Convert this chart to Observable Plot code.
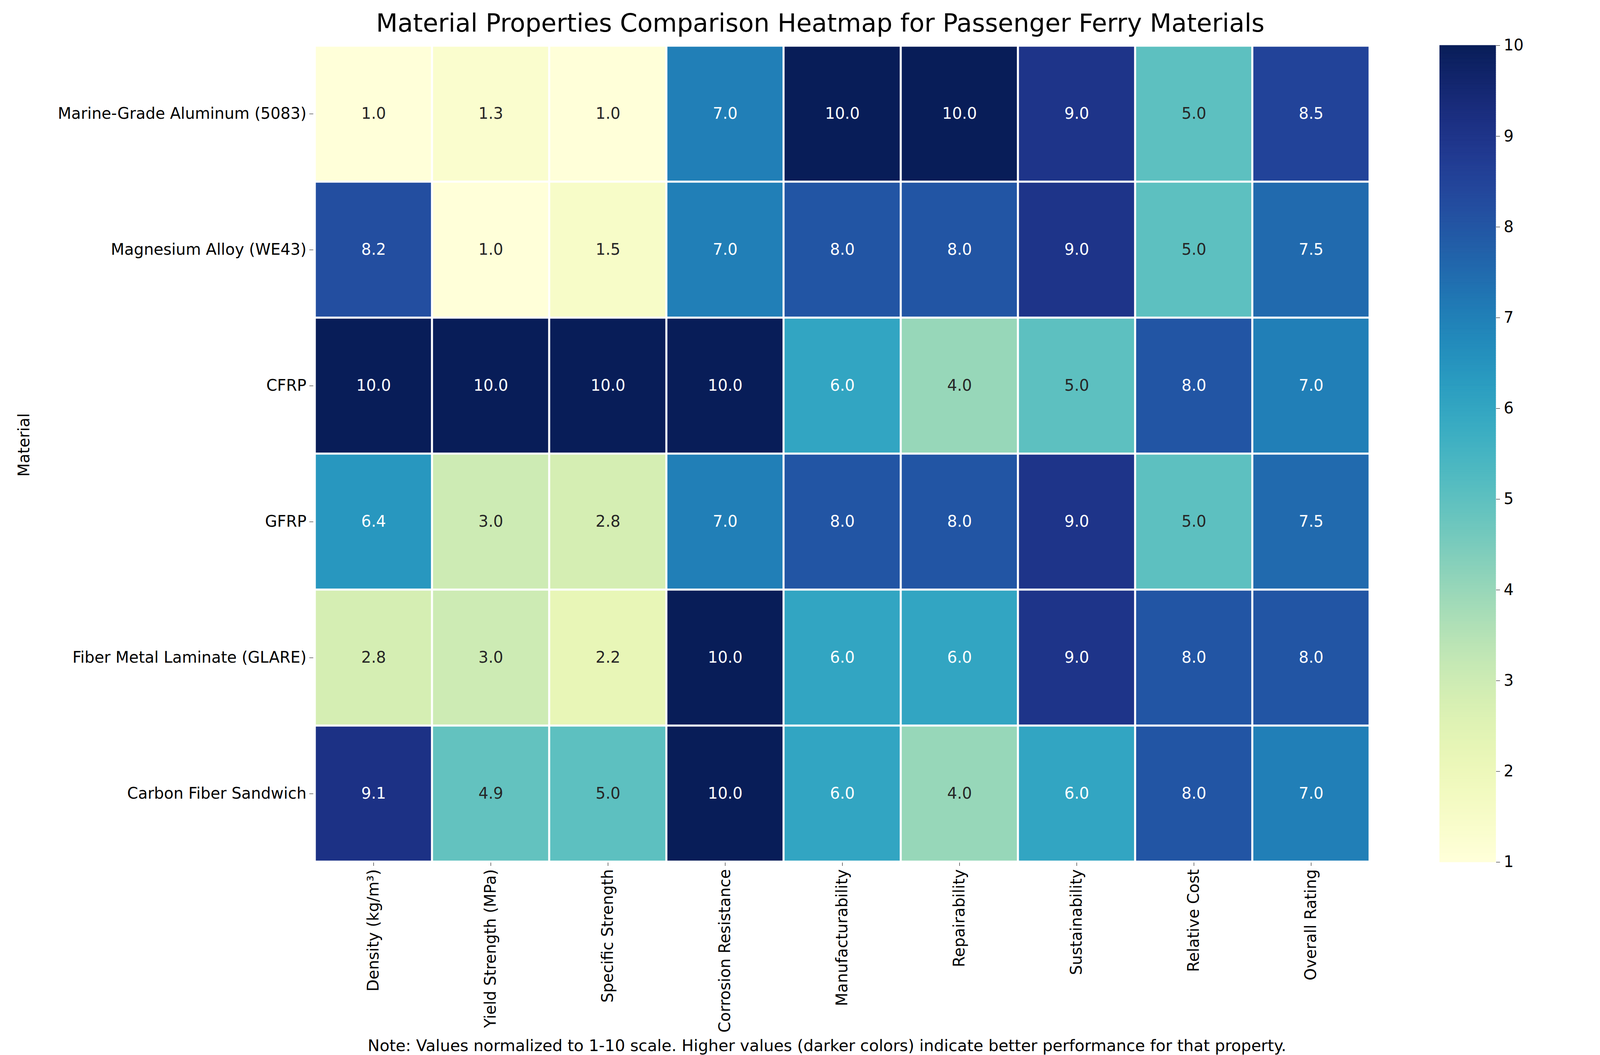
<!DOCTYPE html>
<html>
<head>
<meta charset="utf-8">
<script src="https://cdn.jsdelivr.net/npm/d3@7"></script>
<script src="https://cdn.jsdelivr.net/npm/@observablehq/plot@0.6"></script>
<style>
  body { margin:0; background:#fff; font-family:"DejaVu Sans", sans-serif; }
  #wrap { position:relative; width:4200px; height:2700px; overflow:hidden; }
  #title { position:absolute; top:22px; left:0; width:4200px; text-align:center; font-size:64px; z-index:2; }
  #note { position:absolute; top:2652px; left:0; width:4234px; text-align:center; font-size:41px; z-index:2; }
  #chart { position:absolute; top:116px; left:0; }
  #bar { position:absolute; top:86px; left:3685px; }
  #ylab { position:absolute; left:38px; top:1220px; transform:rotate(-90deg); transform-origin:left top; font-size:40px; z-index:2; }
</style>
</head>
<body>
<div id="wrap">
  <div id="chart"></div>
  <div id="bar"></div>
  <div id="title">Material Properties Comparison Heatmap for Passenger Ferry Materials</div>
  <div id="ylab">Material</div>
  <div id="note">Note: Values normalized to 1-10 scale. Higher values (darker colors) indicate better performance for that property.</div>
</div>
<script>
const materials = ["Marine-Grade Aluminum (5083)", "Magnesium Alloy (WE43)", "CFRP", "GFRP", "Fiber Metal Laminate (GLARE)", "Carbon Fiber Sandwich"];
const properties = ["Density (kg/m³)", "Yield Strength (MPa)", "Specific Strength", "Corrosion Resistance", "Manufacturability", "Repairability", "Sustainability", "Relative Cost", "Overall Rating"];
const values = [
  [1.0, 1.3, 1.0, 7.0, 10.0, 10.0, 9.0, 5.0, 8.5],
  [8.2, 1.0, 1.5, 7.0, 8.0, 8.0, 9.0, 5.0, 7.5],
  [10.0, 10.0, 10.0, 10.0, 6.0, 4.0, 5.0, 8.0, 7.0],
  [6.4, 3.0, 2.8, 7.0, 8.0, 8.0, 9.0, 5.0, 7.5],
  [2.8, 3.0, 2.2, 10.0, 6.0, 6.0, 9.0, 8.0, 8.0],
  [9.1, 4.9, 5.0, 10.0, 6.0, 4.0, 6.0, 8.0, 7.0]
];
const colorTicks = [1, 2, 3, 4, 5, 6, 7, 8, 9, 10];

const cells = materials.flatMap((m, i) => properties.map((p, j) => ({material: m, property: p, value: values[i][j]})));

const chart = Plot.plot({
  width: 3600,
  height: 2650,
  marginLeft: 802,
  marginRight: 90,
  marginTop: 0,
  marginBottom: 560,
  style: {fontFamily: "DejaVu Sans", fontSize: "40px", color: "#000", overflow: "visible"},
  x: {domain: properties, padding: 0, label: null, tickRotate: -90, tickSize: 10, tickPadding: 8},
  y: {domain: materials, padding: 0, label: null, tickSize: 10, tickPadding: 8},
  color: {type: "linear", scheme: "YlGnBu", domain: [1, 10]},
  marks: [
    Plot.cell(cells, {x: "property", y: "material", fill: "value", stroke: "white", strokeWidth: 5}),
    Plot.text(cells, {x: "property", y: "material", text: d => d.value.toFixed(1), fontSize: 40,
      fill: d => d.value > 5.5 ? "white" : "#262626"})
  ]
});
document.getElementById("chart").append(chart);

const ramp = d3.range(1, 10, 0.02);
const bar = Plot.plot({
  width: 280,
  height: 2150,
  marginLeft: 0,
  marginRight: 136,
  marginTop: 30,
  marginBottom: 30,
  style: {fontFamily: "DejaVu Sans", fontSize: "40px", color: "#000"},
  x: {axis: null},
  y: {domain: [1, 10], ticks: colorTicks, tickFormat: d3.format("d"), axis: "right", label: null, tickSize: 10, tickPadding: 10},
  color: {type: "linear", scheme: "YlGnBu", domain: [1, 10]},
  marks: [
    Plot.rectY(ramp, {x1: 0, x2: 1, y1: d => d, y2: d => Math.min(10, d + 0.02), fill: d => d, stroke: d => d, strokeWidth: 1})
  ]
});
document.getElementById("bar").append(bar);
</script>
</body>
</html>
